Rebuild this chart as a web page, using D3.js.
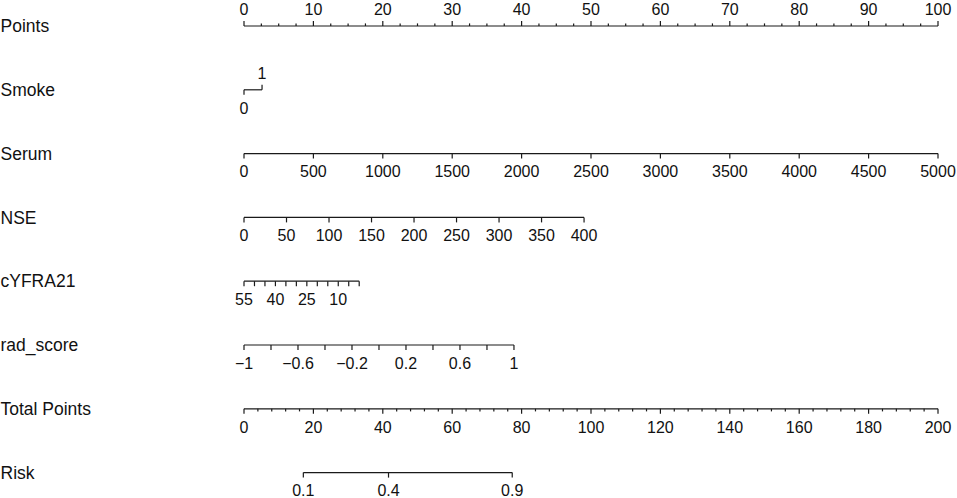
<!DOCTYPE html>
<html>
<head>
<meta charset="utf-8">
<script src="https://cdn.jsdelivr.net/npm/d3@7"></script>
<style>
  html, body { margin: 0; padding: 0; background: #fff; }
  svg { display: block; }
  text { font-family: "Liberation Sans", Arial, Helvetica, sans-serif; fill: #111; }
</style>
</head>
<body>
<svg id="chart" width="957" height="498"></svg>
<script>
// ---- Data ----
const rowLabels = ["Points", "Smoke", "Serum", "NSE", "cYFRA21", "rad_score", "Total Points", "Risk"];

// Points axis
const pointsDomain = [0, 100];
const pointsMajor = [0, 10, 20, 30, 40, 50, 60, 70, 80, 90, 100];
const pointsMinorStep = 2.5;

// Smoke: category values and their points
const smokeValues = [0, 1];
const smokePoints = [0, 2.6];

// Serum: value range -> points range
const serumDomain = [0, 5000];
const serumPoints = [0, 100];
const serumTicks = [0, 500, 1000, 1500, 2000, 2500, 3000, 3500, 4000, 4500, 5000];

// NSE
const nseDomain = [0, 400];
const nsePoints = [0, 49];
const nseTicks = [0, 50, 100, 150, 200, 250, 300, 350, 400];

// cYFRA21 (reversed: 55 gives 0 points)
const cyfraDomain = [55, 0];
const cyfraPoints = [0, 16.6];
const cyfraTicks = [55, 50, 45, 40, 35, 30, 25, 20, 15, 10, 5, 0];
const cyfraLabels = [55, 40, 25, 10];

// rad_score
const radDomain = [-1, 1];
const radPoints = [0, 38.9];
const radTicks = [-1, -0.8, -0.6, -0.4, -0.2, 0, 0.2, 0.4, 0.6, 0.8, 1];
const radLabels = [-1, -0.6, -0.2, 0.2, 0.6, 1];

// Total points axis
const totalDomain = [0, 200];
const totalMajor = [0, 20, 40, 60, 80, 100, 120, 140, 160, 180, 200];
const totalMinorStep = 4;

// Risk: tick values and the total points they sit at
const riskTicks = [0.1, 0.4, 0.9];
const riskEnds = [0.1, 0.9];
const riskEndTotals = [17.1, 77.3];

// ---- Layout ----
const svg = d3.select("#chart");
const x0 = 244, x1 = 938;
const rowTop = 26, rowStep = 63.8;
const rowY = i => rowTop + i * rowStep;
const major = 5, minor = 2.6;
const labelGapBelow = 23.8, labelGapAbove = 11;
const stroke = "#1a1a1a";

const pointsX = d3.scaleLinear().domain(pointsDomain).range([x0, x1]);
const totalX = d3.scaleLinear().domain(totalDomain).range([x0, x1]);

const fmt = v => {
  let s = (Math.round(v * 1000) / 1000).toString();
  return s.replace("-", "\u2212");
};

// Row labels
svg.selectAll("text.rowlab")
  .data(rowLabels)
  .join("text")
  .attr("class", "rowlab")
  .attr("x", 0.5)
  .attr("y", (d, i) => rowY(i) + 6.2)
  .attr("font-size", "17.5px")
  .text(d => d);

function drawAxis(y, ticks, labels) {
  const g = svg.append("g");
  const xs = ticks.map(t => t.x);
  g.append("line")
    .attr("x1", d3.min(xs)).attr("x2", d3.max(xs))
    .attr("y1", y).attr("y2", y)
    .attr("stroke", stroke).attr("stroke-width", 1.2);
  g.selectAll("line.tick")
    .data(ticks)
    .join("line")
    .attr("class", "tick")
    .attr("x1", d => d.x).attr("x2", d => d.x)
    .attr("y1", y)
    .attr("y2", d => y + (d.up ? -d.len : d.len))
    .attr("stroke", stroke).attr("stroke-width", 1.2);
  g.selectAll("text")
    .data(labels)
    .join("text")
    .attr("x", d => d.x)
    .attr("y", d => d.up ? y - labelGapAbove : y + labelGapBelow)
    .attr("text-anchor", "middle")
    .attr("font-size", "16px")
    .text(d => d.text);
}

// Points row
{
  const y = rowY(0);
  const vals = d3.range(pointsDomain[0], pointsDomain[1] + 1e-9, pointsMinorStep);
  const ticks = vals.map(v => ({ x: pointsX(v), len: pointsMajor.includes(v) ? major : minor, up: true }));
  const labels = pointsMajor.map(v => ({ x: pointsX(v), text: fmt(v), up: true }));
  drawAxis(y, ticks, labels);
}

// Smoke row
{
  const y = rowY(1);
  const s = d3.scaleLinear().domain(smokeValues).range(smokePoints);
  const ticks = smokeValues.map((v, i) => ({ x: pointsX(s(v)), len: major, up: i % 2 === 1 }));
  const labels = smokeValues.map((v, i) => ({ x: pointsX(s(v)), text: fmt(v), up: i % 2 === 1 }));
  drawAxis(y, ticks, labels);
}

// Continuous variable rows
function varRow(i, domain, pts, tickVals, labelVals) {
  const y = rowY(i);
  const s = d3.scaleLinear().domain(domain).range(pts);
  const ticks = tickVals.map(v => ({ x: pointsX(s(v)), len: major, up: false }));
  const labels = labelVals.map(v => ({ x: pointsX(s(v)), text: fmt(v), up: false }));
  drawAxis(y, ticks, labels);
}
varRow(2, serumDomain, serumPoints, serumTicks, serumTicks);
varRow(3, nseDomain, nsePoints, nseTicks, nseTicks);
varRow(4, cyfraDomain, cyfraPoints, cyfraTicks, cyfraLabels);
varRow(5, radDomain, radPoints, radTicks, radLabels);

// Total points row
{
  const y = rowY(6);
  const vals = d3.range(totalDomain[0], totalDomain[1] + 1e-9, totalMinorStep);
  const ticks = vals.map(v => ({ x: totalX(v), len: totalMajor.includes(v) ? major : minor, up: false }));
  const labels = totalMajor.map(v => ({ x: totalX(v), text: fmt(v), up: false }));
  drawAxis(y, ticks, labels);
}

// Risk row (logit scale mapped onto total points)
{
  const y = rowY(7);
  const logit = p => Math.log(p / (1 - p));
  const r = d3.scaleLinear().domain(riskEnds.map(logit)).range(riskEndTotals);
  const ticks = riskTicks.map(p => ({ x: totalX(r(logit(p))), len: major, up: false }));
  const labels = riskTicks.map(p => ({ x: totalX(r(logit(p))), text: fmt(p), up: false }));
  drawAxis(y, ticks, labels);
}
</script>
</body>
</html>
